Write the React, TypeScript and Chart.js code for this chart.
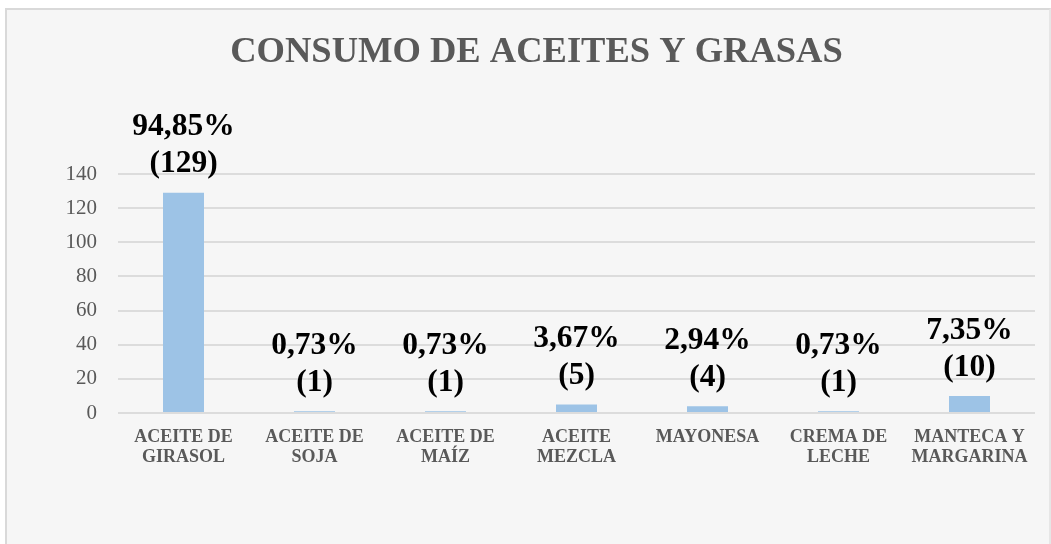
import React, { useEffect, useRef } from "react";
import { Chart, registerables } from "chart.js";

Chart.register(...registerables);

const categories: string[][] = [
  ["ACEITE DE", "GIRASOL"],
  ["ACEITE DE", "SOJA"],
  ["ACEITE DE", "MAÍZ"],
  ["ACEITE", "MEZCLA"],
  ["MAYONESA"],
  ["CREMA DE", "LECHE"],
  ["MANTECA Y", "MARGARINA"],
];
const counts: number[] = [129, 1, 1, 5, 4, 1, 10];
const percents: string[] = ["94,85%", "0,73%", "0,73%", "3,67%", "2,94%", "0,73%", "7,35%"];
const yTicks = { min: 0, max: 140, step: 20 };
const titleText = "CONSUMO DE ACEITES Y GRASAS";

const SERIF = "'Liberation Serif', 'Times New Roman', serif";

const labelPlugin = {
  id: "barLabels",
  afterDatasetsDraw(chart: any) {
    const ctx = chart.ctx;
    const meta = chart.getDatasetMeta(0);
    ctx.save();
    ctx.fillStyle = "#000000";
    ctx.font = `bold 31.5px ${SERIF}`;
    ctx.textAlign = "center";
    ctx.textBaseline = "middle";
    meta.data.forEach((bar: any, i: number) => {
      const x = bar.x;
      const top = bar.y;
      ctx.fillText(`(${counts[i]})`, x, top - 28.5);
      ctx.fillText(percents[i], x, top - 65.5);
    });
    ctx.restore();
  },
};

const titlePlugin = {
  id: "customTitle",
  afterDraw(chart: any) {
    const ctx = chart.ctx;
    ctx.save();
    ctx.fillStyle = "#595959";
    ctx.font = `bold 36.5px ${SERIF}`;
    ctx.textAlign = "center";
    ctx.textBaseline = "middle";
    ctx.fillText(titleText, 536.5, 53);
    ctx.restore();
  },
};

export default function App() {
  const ref = useRef<HTMLCanvasElement | null>(null);
  useEffect(() => {
    if (!ref.current) return;
    const chart = new Chart(ref.current, {
      type: "bar",
      data: {
        labels: categories,
        datasets: [
          {
            data: counts,
            backgroundColor: "#9DC3E6",
            borderWidth: 0,
            categoryPercentage: 1,
            barPercentage: 0.313,
          },
        ],
      },
      options: {
        responsive: false,
        animation: false,
        layout: { padding: { top: 174, left: 0, right: 16, bottom: 0 } },
        plugins: {
          legend: { display: false },
          title: { display: false },
          tooltip: { enabled: false },
        },
        scales: {
          x: {
            grid: { display: false, drawTicks: false },
            border: { display: false },
            ticks: {
              color: "#595959",
              font: { family: SERIF, size: 18, weight: "bold", lineHeight: 1.14 },
              padding: 14,
              maxRotation: 0,
              autoSkip: false,
            },
            afterFit(scale: any) {
              scale.height = 131;
            },
          },
          y: {
            min: yTicks.min,
            max: yTicks.max,
            grid: { color: "#DCDCDC", lineWidth: 2, drawTicks: false },
            border: { display: false },
            ticks: {
              stepSize: yTicks.step,
              color: "#595959",
              font: { family: SERIF, size: 21 },
              padding: 21,
            },
            afterFit(scale: any) {
              scale.width = 118;
            },
          },
        },
      },
      plugins: [labelPlugin, titlePlugin],
    });
    return () => chart.destroy();
  }, []);

  return (
    <>
      <div
        style={{
          position: "absolute",
          left: 5,
          top: 8,
          width: 1046,
          height: 536,
          boxSizing: "border-box",
          background: "#F6F6F6",
          borderTop: "2px solid #D9D9D9",
          borderLeft: "2px solid #D9D9D9",
          borderRight: "2px solid #E6E6E6",
        }}
      />
      <canvas
        ref={ref}
        width={1051}
        height={544}
        style={{ position: "absolute", left: 0, top: 0, display: "block" }}
      />
    </>
  );
}
